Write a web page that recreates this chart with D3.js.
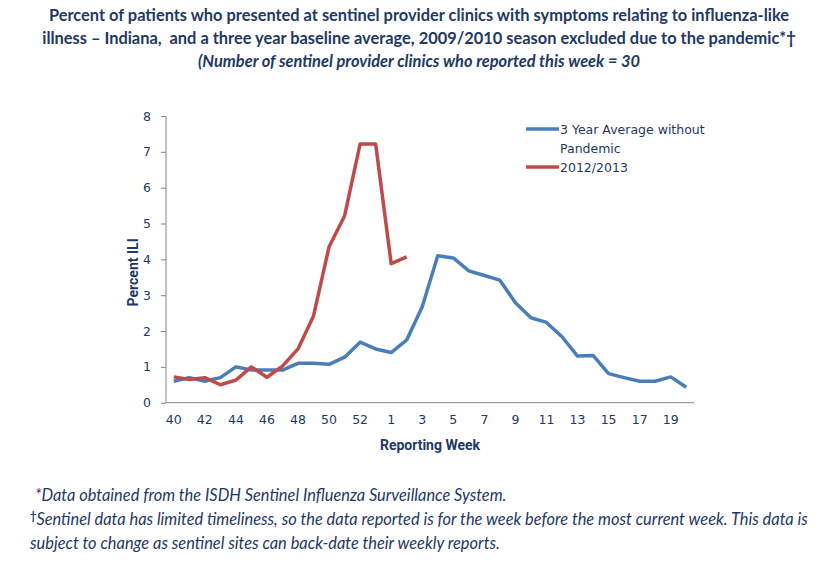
<!DOCTYPE html>
<html lang="en">
<head>
    <meta charset="UTF-8">
    <title>Percent ILI - Indiana</title>
    <style>
        body { margin: 0; background: #fff; }
        svg text { fill: #1f3864; }
        .title { font-family: Lato, "Open Sans", sans-serif; font-weight: bold; font-size: 16.4px; }
        .note { font-family: Lato, "Open Sans", sans-serif; font-style: italic; font-size: 16.4px; }
        .tick text { font-family: "DejaVu Sans", Verdana, sans-serif; font-size: 12.5px; }
        .legend text { font-family: "DejaVu Sans", Verdana, sans-serif; font-size: 12.5px; }
        .axis-title { font-family: "Liberation Sans Narrow", Roboto, sans-serif; font-weight: bold; font-size: 14px; }
        .domain { stroke: #868686; }
        .tick line { stroke: #868686; }
    </style>
</head>
<body>
<svg id="chart" width="838" height="566"></svg>
<script src="https://cdnjs.cloudflare.com/ajax/libs/d3/7.8.5/d3.min.js"></script>
<script>
    // reporting weeks (season 2012/2013 had a week 53)
    var weeks = [40,41,42,43,44,45,46,47,48,49,50,51,52,53,
                 1,2,3,4,5,6,7,8,9,10,11,12,13,14,15,16,17,18,19,20];
    var avgValues = [0.60,0.70,0.60,0.70,1.00,0.91,0.91,0.91,1.10,1.10,1.07,1.27,1.69,1.50,
                     1.40,1.75,2.68,4.10,4.04,3.68,3.55,3.42,2.79,2.37,2.24,1.84,1.30,1.32,
                     0.81,0.70,0.60,0.60,0.72,0.43];
    var seasonValues = [0.72,0.65,0.70,0.50,0.63,1.00,0.71,1.02,1.50,2.42,4.35,5.21,7.22,7.22,
                        3.88,4.07];
    var yTicks = [0,1,2,3,4,5,6,7,8];
    var seriesNames = ["3 Year Average without|Pandemic", "2012/2013"];
    var seriesColors = ["#4a7ebb", "#be4b48"];

    var svg = d3.select("#chart");
    var plotLeft = 166, plotRight = 694, plotTop = 116, plotBottom = 402.7;

    var x = d3.scaleBand().domain(d3.range(weeks.length)).range([plotLeft, plotRight]);
    var y = d3.scaleLinear().domain([0, 8]).range([plotBottom, plotTop]);

    // title
    var titleLines = [
        "Percent of patients who presented at sentinel provider clinics with symptoms relating to influenza-like",
        "illness \u2013 Indiana,  and a three year baseline average, 2009/2010 season excluded due to the pandemic*\u2020"
    ];
    svg.selectAll(".title").data(titleLines).enter().append("text")
        .attr("class", "title")
        .attr("x", 419).attr("y", function(d, i) { return 21 + i * 23; })
        .attr("text-anchor", "middle")
        .style("white-space", "pre")
        .text(function(d) { return d; });
    svg.append("text").attr("class", "title")
        .attr("x", 419).attr("y", 67).attr("text-anchor", "middle")
        .style("font-style", "italic")
        .text("(Number of sentinel provider clinics who reported this week = 30");

    // axes
    svg.append("g")
        .attr("transform", "translate(" + plotLeft + ",0)")
        .call(d3.axisLeft(y).tickValues(yTicks).tickSize(5).tickPadding(10).tickFormat(d3.format("d")))
        .call(function(g) { g.select(".domain").attr("d", "M0," + plotTop + "V" + plotBottom); });

    // every other week labelled: 40..52, then 1..19 (week 53 and 20 unlabelled)
    svg.append("g")
        .attr("transform", "translate(0," + plotBottom + ")")
        .call(d3.axisBottom(x)
            .tickValues(d3.range(0, weeks.length - 1, 2))
            .tickSize(0).tickPadding(12)
            .tickFormat(function(i) { return weeks[i]; }))
        .call(function(g) { g.select(".domain").attr("d", "M" + plotLeft + ",0H" + plotRight); });

    svg.append("text").attr("class", "axis-title")
        .attr("transform", "translate(138," + ((plotTop + plotBottom) / 2 + 13) + ") rotate(-90)")
        .attr("text-anchor", "middle")
        .text("Percent ILI");
    svg.append("text").attr("class", "axis-title")
        .attr("x", 430).attr("y", 450).attr("text-anchor", "middle")
        .text("Reporting Week");

    // lines
    var line = d3.line()
        .x(function(d, i) { return x(i) + x.bandwidth() / 2; })
        .y(function(d) { return y(d); });

    [avgValues, seasonValues].forEach(function(vals, k) {
        svg.append("path")
            .attr("d", line(vals))
            .attr("fill", "none")
            .attr("stroke", seriesColors[k])
            .attr("stroke-width", 3.5)
            .attr("stroke-linejoin", "round");
    });

    // legend
    var legend = svg.append("g").attr("class", "legend");
    var legendY = [129, 167];
    seriesNames.forEach(function(name, k) {
        legend.append("line")
            .attr("x1", 526).attr("x2", 559)
            .attr("y1", legendY[k]).attr("y2", legendY[k])
            .attr("stroke", seriesColors[k]).attr("stroke-width", 3.5);
        name.split("|").forEach(function(part, j) {
            legend.append("text")
                .attr("x", 560).attr("y", legendY[k] + 4.5 + j * 19)
                .text(part);
        });
    });

    // footnotes
    var notes = [
        { x: 35, y: 501, t: "*Data obtained from the ISDH Sentinel Influenza Surveillance System." },
        { x: 30, y: 525, t: "Sentinel data has limited timeliness, so the data reported is for the week before the most current week. This data is", dagger: true },
        { x: 30, y: 549, t: "subject to change as sentinel sites can back-date their weekly reports." }
    ];
    notes.forEach(function(n) {
        var t = svg.append("text").attr("class", "note").attr("x", n.x).attr("y", n.y);
        if (n.dagger) {
            t.append("tspan").attr("dy", -5).style("font-size", "11px").style("font-style", "normal").style("font-weight", "bold").text("\u2020");
            t.append("tspan").attr("dy", 5).text(n.t);
        } else {
            t.text(n.t);
        }
    });
</script>
</body>
</html>
